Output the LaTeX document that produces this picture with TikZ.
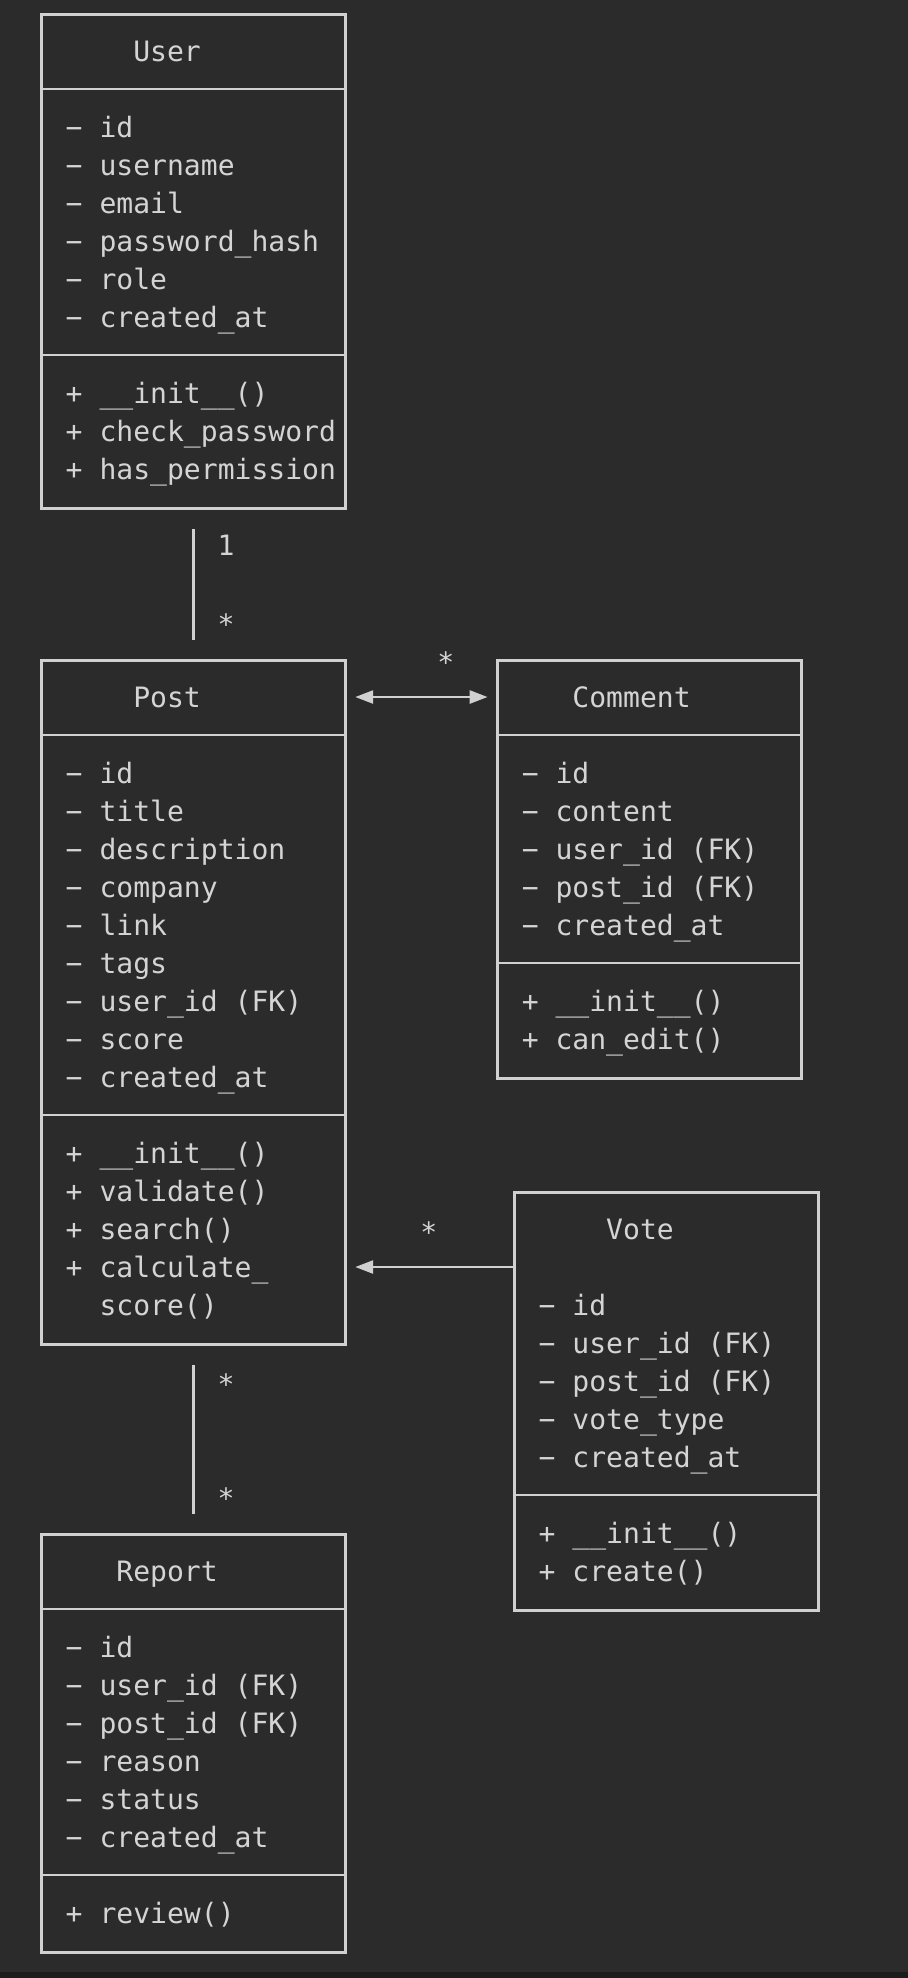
\documentclass[tikz,border=0pt]{standalone}
\usepackage{fontspec}
\usepackage{tikz}
\usetikzlibrary{arrows.meta, positioning}
\newfontfamily\umlfont{DejaVu Sans Mono}
\definecolor{bgc}{HTML}{2B2B2B}
\definecolor{bandc}{HTML}{1C1C1C}
\definecolor{linegray}{HTML}{D0D0D0}
\definecolor{textgray}{HTML}{D4D4D4}
\tikzset {
    umlbox/.style n args = {2}{
        draw = linegray,
        line width = 1.4pt,
        anchor = north west,
        inner sep = 0pt,
        minimum width = #1*8.445pt,
        minimum height = #2*19pt
    },
    sep/.style = {
        draw = linegray,
        line width = 1.4pt
    },
    txt/.style = {
        anchor = base west,
        inner sep = 0pt,
        text = textgray,
        yshift = -5.1pt,
        font = {\umlfont\fontsize{14.03pt}{19pt}\selectfont}
    },
    mult/.style = {
        txt,
        yshift = -1.5pt % on top of the txt shift
    },
    assoc/.style = {
        draw = linegray,
        line width = 1.3pt,
        >={Triangle[length=9pt, width=6.5pt]}
    }
}
\begin{document}
\begin{tikzpicture}[x=8.445pt, y=-19pt]
        % canvas
        \fill[bgc] (-20pt,6.5pt) rectangle (434pt,-982.5pt);
        \fill[bandc] (-20pt,-979.5pt) rectangle (434pt,-982.5pt);
        \useasboundingbox (-20pt,6.5pt) rectangle (434pt,-982.5pt);

        % User
        \node [umlbox={18}{13}]     (user)      at (0, 0)       {};
        \node [txt]                 (user-t)    at (5.5, 1)     {User};
        \draw [sep] (user.west |- 0,2) -- (user.east |- 0,2);
        \draw [sep] (user.west |- 0,9) -- (user.east |- 0,9);
        \foreach \a [count=\i] in {id, username, email, password\_hash, role, created\_at}
            \node [txt] (user-a\i) at (1.5, 2+\i) {− \a};
        \foreach \m [count=\i] in {\_\_init\_\_(), check\_password, has\_permission}
            \node [txt] (user-m\i) at (1.5, 9+\i) {+ \m};

        % Post
        \node [umlbox={18}{18}]     (post)      at (0, 17)      {};
        \node [txt]                 (post-t)    at (5.5, 18)    {Post};
        \draw [sep] (post.west |- 0,19) -- (post.east |- 0,19);
        \draw [sep] (post.west |- 0,29) -- (post.east |- 0,29);
        \foreach \a [count=\i] in {id, title, description, company, link, tags, user\_id (FK), score, created\_at}
            \node [txt] (post-a\i) at (1.5, 19+\i) {− \a};
        \foreach \m [count=\i] in {\_\_init\_\_(), validate(), search(), calculate\_}
            \node [txt] (post-m\i) at (1.5, 29+\i) {+ \m};
        \node [txt]                 (post-m5)   at (3.5, 34)    {score()};

        % Comment
        \node [umlbox={18}{11}]     (comment)   at (27, 17)     {};
        \node [txt]                 (comment-t) at (31.5, 18)   {Comment};
        \draw [sep] (comment.west |- 0,19) -- (comment.east |- 0,19);
        \draw [sep] (comment.west |- 0,25) -- (comment.east |- 0,25);
        \foreach \a [count=\i] in {id, content, user\_id (FK), post\_id (FK), created\_at}
            \node [txt] (comment-a\i) at (28.5, 19+\i) {− \a};
        \foreach \m [count=\i] in {\_\_init\_\_(), can\_edit()}
            \node [txt] (comment-m\i) at (28.5, 25+\i) {+ \m};

        % Vote (no title rule)
        \node [umlbox={18}{11}]     (vote)      at (28, 31)     {};
        \node [txt]                 (vote-t)    at (33.5, 32)   {Vote};
        \draw [sep] (vote.west |- 0,39) -- (vote.east |- 0,39);
        \foreach \a [count=\i] in {id, user\_id (FK), post\_id (FK), vote\_type, created\_at}
            \node [txt] (vote-a\i) at (29.5, 33+\i) {− \a};
        \foreach \m [count=\i] in {\_\_init\_\_(), create()}
            \node [txt] (vote-m\i) at (29.5, 39+\i) {+ \m};

        % Report
        \node [umlbox={18}{11}]     (report)    at (0, 40)      {};
        \node [txt]                 (report-t)  at (4.5, 41)    {Report};
        \draw [sep] (report.west |- 0,42) -- (report.east |- 0,42);
        \draw [sep] (report.west |- 0,49) -- (report.east |- 0,49);
        \foreach \a [count=\i] in {id, user\_id (FK), post\_id (FK), reason, status, created\_at}
            \node [txt] (report-a\i) at (1.5, 42+\i) {− \a};
        \node [txt]                 (report-m1) at (1.5, 50)    {+ review()};

        % multiplicities
        \node [txt]  (m-user)     at (10.5, 14)  {1};
        \node [mult] (m-post1)    at (10.5, 16)  {*};
        \node [mult] (m-comment)  at (23.5, 17)  {*};
        \node [mult] (m-vote)     at (22.5, 32)  {*};
        \node [mult] (m-post2)    at (10.5, 36)  {*};
        \node [mult] (m-report)   at (10.5, 39)  {*};

        % connectors
        \path [assoc, shorten <=9.5pt, shorten >=9.5pt]  (user.south)  --  (post.north);
        \path [assoc, shorten <=9.5pt, shorten >=9.5pt]  (post.south)  --  (report.north);
        \path [assoc, <->, shorten <=4.2pt, shorten >=4.2pt]  (post.east |- 0,18)  --  (comment.west |- 0,18);
        \path [assoc, ->, shorten >=4.2pt]  (vote.west |- 0,33)  --  (post.east |- 0,33);
\end{tikzpicture}
\end{document}
